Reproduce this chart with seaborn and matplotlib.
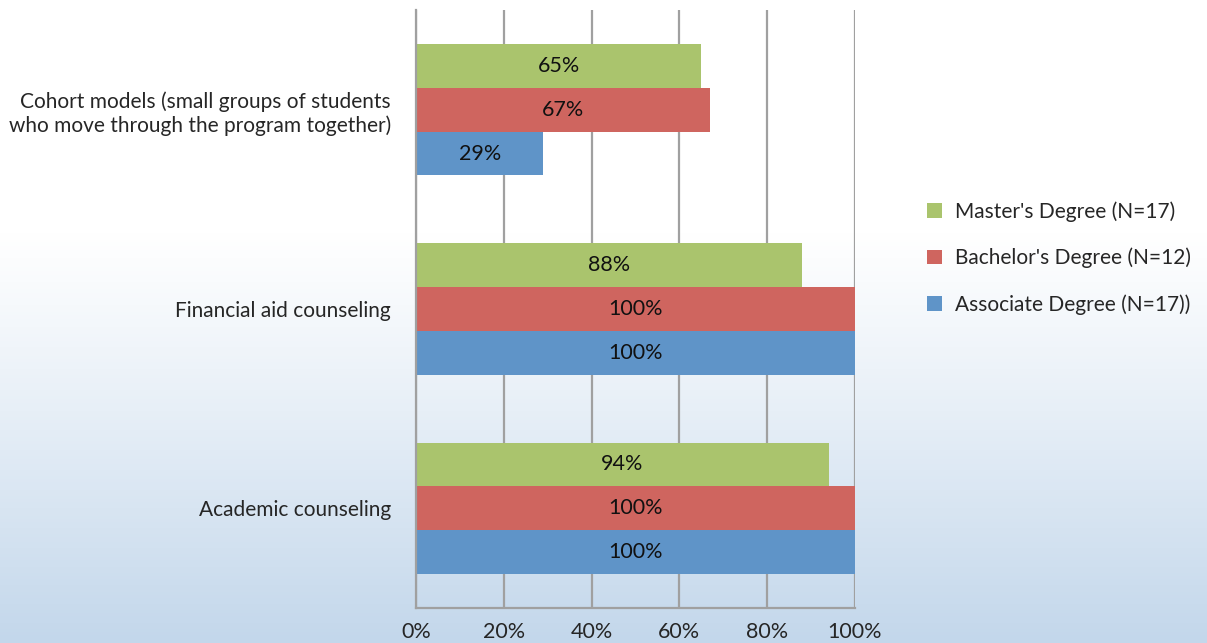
import numpy as np
import pandas as pd
import matplotlib
matplotlib.use("Agg")
import matplotlib.pyplot as plt
import seaborn as sns
from matplotlib.colors import LinearSegmentedColormap

categories = [
    "Cohort models (small groups of students\nwho move through the program together)",
    "Financial aid counseling",
    "Academic counseling",
]
series_names = [
    "Master's Degree (N=17)",
    "Bachelor's Degree (N=12)",
    "Associate Degree (N=17))",
]
masters = [65, 88, 94]
bachelors = [67, 100, 100]
associates = [29, 100, 100]
tick_values = [0, 20, 40, 60, 80, 100]
tick_labels = ["0%", "20%", "40%", "60%", "80%", "100%"]
colors = ["#aac46d", "#cf655f", "#5f94c8"]

rows = []
for name, vals in zip(series_names, [masters, bachelors, associates]):
    for cat, v in zip(categories, vals):
        rows.append({"category": cat, "series": name, "value": v})
df = pd.DataFrame(rows)

sns.set_style("white")
plt.rcParams["font.family"] = ["Lato", "DejaVu Sans"]
FS = 15

W, H = 1207, 643
fig = plt.figure(figsize=(W / 100, H / 100), dpi=100)

# background: white fading to pale blue toward the bottom
bg = fig.add_axes([0, 0, 1, 1], zorder=-10)
grad = np.concatenate([np.zeros(230), np.linspace(0, 1, H - 230) ** 1.1])[:, None]
cmap = LinearSegmentedColormap.from_list("bg", ["#ffffff", "#c3d7eb"])
bg.imshow(grad, aspect="auto", cmap=cmap, extent=[0, 1, 0, 1], origin="upper")
bg.axis("off")

ax = fig.add_axes([416 / W, 1 - 608 / H, (855 - 416) / W, (608 - 10) / H])
ax.patch.set_alpha(0)

sns.barplot(
    data=df, y="category", x="value", hue="series",
    order=categories, hue_order=series_names, palette=colors,
    orient="h", width=0.66, dodge=True, ax=ax, saturation=1,
    edgecolor="none", errorbar=None,
)

for container in ax.containers:
    ax.bar_label(container, labels=[f"{int(round(b.get_width()))}%" for b in container],
                 label_type="center", fontsize=FS + 0.5, color="#111111")

ax.set_xlim(0, 100)
ax.set_ylim(2.5, -0.5)
ax.set_xticks(tick_values)
ax.set_xticklabels(tick_labels, fontsize=FS + 0.5)
ax.tick_params(axis="x", length=0, pad=10)
ax.tick_params(axis="y", length=0, pad=18, labelsize=FS)
for lbl in ax.get_yticklabels():
    lbl.set_multialignment("right")
ax.set_xlabel("")
ax.set_ylabel("")
ax.grid(axis="x", color="#a0a0a0", linewidth=1.6)
ax.set_axisbelow(True)
for side in ["top", "right"]:
    ax.spines[side].set_visible(False)
for side in ["left", "bottom"]:
    ax.spines[side].set_color("#a0a0a0")
    ax.spines[side].set_linewidth(1.6)

handles, labels = ax.get_legend_handles_labels()
ax.get_legend().remove()
fig.legend(handles, labels, loc="center left", bbox_to_anchor=(908 / W, 1 - 258 / H),
           frameon=False, fontsize=FS, handlelength=0.72, handleheight=0.72,
           handletextpad=0.65, labelspacing=1.23)

fig.savefig("out.png", dpi=100)
